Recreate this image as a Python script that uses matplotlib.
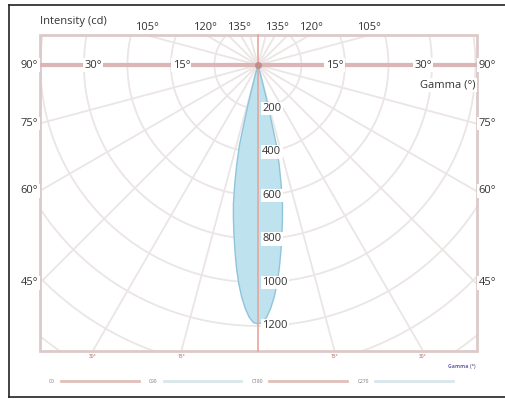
import numpy as np
import matplotlib
matplotlib.use("Agg")
import matplotlib.pyplot as plt
from matplotlib.patches import Rectangle
from matplotlib.lines import Line2D

# Luminous intensity distribution
gamma_deg = [0, 1, 2, 3, 4, 5, 6, 7, 8, 9, 10, 11, 12, 13, 14, 15, 16]
intensity_cd = [1190, 1185, 1160, 1120, 1070, 1010, 940, 865, 790, 720,
                650, 560, 470, 380, 200, 60, 0]

ring_values = [200, 400, 600, 800, 1000, 1200, 1400, 1600]
ring_labels = ["200", "400", "600", "800", "1000", "1200"]
radial_angles = [15, 30, 45, 60, 75, 90, 105, 120, 135, 150, 165]
side_labels = ["90°", "75°", "60°", "45°"]
side_angles = [90, 75, 60, 45]
top_labels = ["105°", "120°", "135°"]
top_angles = [105, 120, 135]
mid_labels = ["30°", "15°"]
mid_angles = [30, 15]
legend_names = ["C0", "C90", "C180", "C270"]

BOX_L, BOX_R, BOX_T, BOX_B = -1002, 1007, 138, -1315
GRID = "#ebe5e5"
TXT = "#333333"

plt.rcParams['font.family'] = ['Open Sans', 'DejaVu Sans']
fig = plt.figure(figsize=(5.05, 3.99), dpi=100)
ax = fig.add_axes([0, 0, 1, 1])
ax.set_xlim(-1186, 1136)
ax.set_ylim(-1536, 299)
ax.axis('off')

clip = Rectangle((BOX_L, BOX_B), BOX_R - BOX_L, BOX_T - BOX_B,
                 transform=ax.transData, facecolor='none', edgecolor='none')
ax.add_patch(clip)

# polar grid
t = np.linspace(0, 2 * np.pi, 400)
for r in ring_values:
    ln, = ax.plot(r * np.sin(t), -r * np.cos(t), color=GRID, lw=1.3, zorder=1)
    ln.set_clip_path(clip)
for a in radial_angles:
    for side in (-1, 1):
        g = np.radians(a)
        ln, = ax.plot([0, side * 3000 * np.sin(g)], [0, -3000 * np.cos(g)],
                      color=GRID, lw=1.3, zorder=1)
        ln.set_clip_path(clip)

# beam
g = np.radians(gamma_deg)
I = np.array(intensity_cd)
xs = np.concatenate([-(I * np.sin(g))[::-1], (I * np.sin(g))[1:]])
ys = np.concatenate([-(I * np.cos(g))[::-1], -(I * np.cos(g))[1:]])
ax.fill(xs, ys, facecolor='#bfe2ef', edgecolor='#8fc4da', lw=1.0, zorder=2)

# axes lines and box
ax.add_patch(Rectangle((BOX_L, BOX_B), BOX_R - BOX_L, BOX_T - BOX_B,
                       facecolor='none', edgecolor='#dccaca', lw=2, zorder=3))
ax.plot([BOX_L, BOX_R], [0, 0], color='#dcb6b6', lw=3, zorder=3)
ax.plot([0, 0], [BOX_T, BOX_B], color='#e6a59c', lw=1.2, zorder=3)
ax.plot([0], [0], 'o', ms=4, color='#c58c8c', zorder=3)

box = dict(facecolor='white', edgecolor='none', pad=1.0)
fs = 8

for lab, a in zip(side_labels, side_angles):
    y = BOX_L / np.tan(np.radians(a)) if a != 90 else 0
    ax.text(BOX_L - 8, y, lab, ha='right', va='center', fontsize=fs,
            color=TXT, bbox=box, zorder=5)
    ax.text(BOX_R + 8, y, lab, ha='left', va='center', fontsize=fs,
            color=TXT, bbox=box, zorder=5)

top_x = [-510, -243, -87]
for lab, x in zip(top_labels, top_x):
    ax.text(x, 174, lab, ha='center', va='center', fontsize=fs, color=TXT,
            bbox=box, zorder=5)
    ax.text(-x, 174, lab, ha='center', va='center', fontsize=fs, color=TXT,
            bbox=box, zorder=5)

for lab, a in zip(mid_labels, mid_angles):
    x = -BOX_B * np.tan(np.radians(a))
    for side in (-1, 1):
        ax.text(side * x, 0, lab, ha='center', va='center', fontsize=fs,
                color=TXT, bbox=box, zorder=5)
        ax.text(side * x, -1340, lab, ha='center', va='center', fontsize=3.5,
                color='#b9766a', alpha=0.7, fontweight='bold', zorder=5)

for lab in ring_labels:
    ax.text(20, -float(lab), lab, ha='left', va='center', fontsize=fs,
            color=TXT, bbox=box, zorder=5)

ax.text(BOX_L, 200, "Intensity (cd)", ha='left', va='center', fontsize=fs,
        color=TXT, bbox=box, zorder=5)
ax.text(BOX_R - 5, -92, "Gamma (°)", ha='right', va='center', fontsize=fs,
        color=TXT, bbox=box, zorder=5)
ax.text(BOX_R - 5, -1385, "Gamma (°)", ha='right', va='center', fontsize=3.8,
        color='#4a4a8c', fontweight='bold', alpha=0.8, zorder=5)

handles = [Line2D([], [], color=c, lw=2, alpha=0.7)
           for c in ['#d5a49c', '#c9dde3', '#d5a49c', '#c9dde3']]
leg = ax.legend(handles, legend_names, loc='center', ncol=4,
                bbox_to_anchor=(0.497, 0.045), frameon=False, markerfirst=False,
                fontsize=3.5, handlelength=16, handletextpad=1.2,
                columnspacing=2.2, labelcolor='#777777')

# outer frame: open on the right, as in the source image
frame_kw = dict(transform=fig.transFigure, color='#222222', lw=1.2)
fig.add_artist(Line2D([9 / 505, 1], [394 / 399, 394 / 399], **frame_kw))
fig.add_artist(Line2D([9 / 505, 1], [2 / 399, 2 / 399], **frame_kw))
fig.add_artist(Line2D([9 / 505, 9 / 505], [2 / 399, 394 / 399], **frame_kw))

fig.savefig("out.png", dpi=100)
